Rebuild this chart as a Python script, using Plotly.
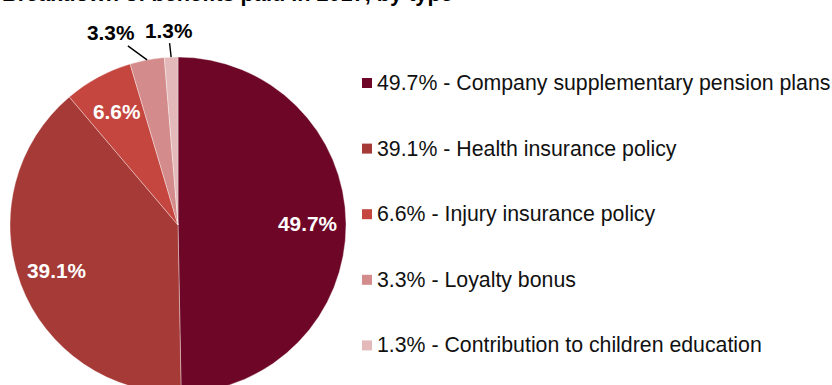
import math
import plotly.graph_objects as go

# Benefit types and their share of total benefits paid
categories = [
    "Company supplementary pension plans",
    "Health insurance policy",
    "Injury insurance policy",
    "Loyalty bonus",
    "Contribution to children education",
]
shares = [49.7, 39.1, 6.6, 3.3, 1.3]
colors = ["#6E0727", "#A63A36", "#C5463F", "#D48B8B", "#E4B9BA"]
label_inside = [True, True, True, False, False]

title_text = "Breakdown of benefits paid in 2017, by type"

W, H = 832, 400
FONT = "Liberation Sans, Arial, sans-serif"
FS = 20.8
LEGEND_FS = 21.3
TITLE_FS = 21.7

# pie geometry in pixels
CX, CY, R = 178, 225, 168


def px(x):
    return x / W


def py(y):
    return 1 - y / H


fig = go.Figure()
fig.add_trace(go.Pie(
    labels=categories,
    values=shares,
    sort=False,
    direction="clockwise",
    rotation=0,
    marker=dict(colors=colors, line=dict(color="rgba(255,255,255,0.6)", width=0.6)),
    textinfo="none",
    showlegend=False,
    hoverinfo="label+value",
    domain=dict(x=[px(CX - R), px(CX + R)], y=[py(CY + R), py(CY - R)]),
))

annotations = [dict(
    text="<b>" + title_text + "</b>",
    xref="paper", yref="paper", x=0, y=py(8),
    xanchor="left", yanchor="bottom", showarrow=False,
    font=dict(family=FONT, size=TITLE_FS, color="black"),
)]

# Percentage labels placed at each slice's mid-angle
total = sum(shares)
cum = 0.0
out_offsets = {3: (-37, -27), 4: (-3, -27)}
for i, (val, inside) in enumerate(zip(shares, label_inside)):
    mid = (cum + val / 2) / total * 2 * math.pi
    cum += val
    dx, dy = math.sin(mid), -math.cos(mid)
    if inside:
        rr = 0.77 * R
        annotations.append(dict(
            text=f"<b>{val:.1f}%</b>",
            xref="paper", yref="paper",
            x=px(CX + rr * dx), y=py(CY + rr * dy),
            xanchor="center", yanchor="middle", showarrow=False,
            font=dict(family=FONT, size=FS, color="white"),
        ))
    else:
        ax, ay = out_offsets[i]
        annotations.append(dict(
            text=f"<b>{val:.1f}%</b>",
            xref="paper", yref="paper",
            x=px(CX + R * dx), y=py(CY + R * dy),
            ax=ax, ay=ay, showarrow=True,
            arrowhead=0, arrowwidth=1.4, arrowcolor="black", standoff=0,
            font=dict(family=FONT, size=FS, color="black"),
        ))

# Legend drawn as a list of coloured squares with labels
shapes = []
row_top, row_step = 83, 65.6
for i, (cat, val, col) in enumerate(zip(categories, shares, colors)):
    yc = row_top + i * row_step
    shapes.append(dict(
        type="rect", xref="paper", yref="paper",
        x0=px(362), x1=px(372), y0=py(yc - 5), y1=py(yc + 5),
        fillcolor=col, line=dict(width=0),
    ))
    annotations.append(dict(
        text=f"{val:.1f}% - {cat}",
        xref="paper", yref="paper", x=px(374.5), y=py(yc),
        xanchor="left", yanchor="middle", showarrow=False,
        font=dict(family=FONT, size=LEGEND_FS, color="#111111"),
    ))

fig.update_layout(
    width=W, height=H,
    margin=dict(l=0, r=0, t=0, b=0),
    paper_bgcolor="white",
    plot_bgcolor="white",
    annotations=annotations,
    shapes=shapes,
)

fig.write_html("out.html")
